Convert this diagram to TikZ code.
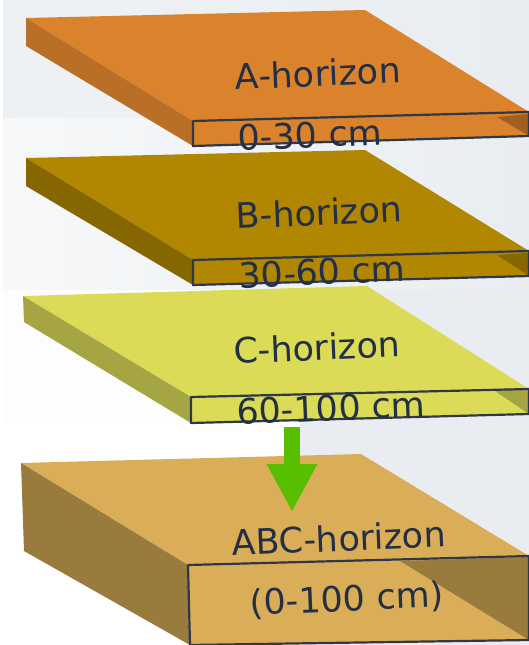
\documentclass[tikz,border=0pt]{standalone}
\usepackage{xcolor}
\usepackage{fontspec}
\setmainfont{DejaVu Sans}
\usetikzlibrary{calc,arrows.meta,positioning}
\definecolor{textblue}{HTML}{232F45}
\definecolor{edgeblue}{HTML}{2E3848}
\definecolor{paneback}{HTML}{E9EDF1}
\definecolor{arrowgreen}{HTML}{58BE00}
\definecolor{topA}{HTML}{DB832C}
\definecolor{sideA}{HTML}{B96F25}
\definecolor{darkA}{HTML}{A0601F}
\definecolor{topB}{HTML}{B18600}
\definecolor{sideB}{HTML}{866600}
\definecolor{darkB}{HTML}{866600}
\definecolor{topC}{HTML}{DCDB58}
\definecolor{sideC}{HTML}{A5A543}
\definecolor{darkC}{HTML}{A5A543}
\definecolor{topD}{HTML}{DAAE58}
\definecolor{sideD}{HTML}{9A7B3E}
\definecolor{darkD}{HTML}{9A7B3E}
\tikzset{
  layerlabel/.style={text=textblue, font=\fontsize{35}{35}\selectfont, inner sep=0pt, rotate=2.5},
  frontedge/.style={draw=edgeblue, line width=2.2pt, line join=round},
  flowline/.style={arrowgreen, line width=16pt, -{Triangle[length=48pt,width=47pt]}}
}
\begin{document}
\begin{tikzpicture}[x=1pt,y=-1pt]
	\useasboundingbox (0,0) rectangle (529,645);
	% background panes
	\fill[white] (0,0) rectangle (529,645);
	\shade[left color=paneback!75!white, right color=paneback] (3,0) rectangle (529,118);
	\shade[left color=paneback!40!white, right color=paneback] (3,118) rectangle (529,290);
	\fill[paneback!10!white] (3,290) rectangle (300,424);
	\fill[paneback] (300,290) rectangle (529,645);
	% the four slabs: top face, left side, open front with its dark corner
	\foreach \topl/\topr/\edger/\frontl/\sidel/\lowl/\lowr/\darkl/\darkr/\lay in {
		{26,18}/{365,10}/{529,112}/{193,121}/{26,46}/{193,146}/{529,136}/{497,117}/{529,114}/A,
		{26,158}/{365,150}/{529,251}/{193,260}/{26,186}/{193,285}/{529,276}/{497,255}/{529,253}/B,
		{23,296}/{367,286}/{529,389}/{191,397}/{24,322}/{191,423}/{529,414}/{495,391}/{529,389}/C,
		{21,463}/{361,454}/{529,556}/{188,565}/{24,551}/{190,645}/{529,640}/{400,561}/{529,557}/D}
	{
		\fill[top\lay] (\topl) -- (\topr) -- (\edger) -- (\frontl) -- cycle;
		\fill[side\lay] (\topl) -- (\frontl) -- (\lowl) -- (\sidel) -- cycle;
		\fill[top\lay] (\frontl) -- (\edger) -- (\lowr) -- (\lowl) -- cycle;
		\fill[dark\lay] (\darkl) -- (\darkr) -- (\lowr) -- cycle;
		\draw[frontedge] (\frontl) -- (\edger) -- (\lowr) -- (\lowl) -- cycle;
	}
	% labels
	\node[layerlabel] (labelA) at (318,73) {A-horizon};
	\node[layerlabel] (depthA) at (310,135) {0-30 cm};
	\node[layerlabel] (labelB) at (319,212) {B-horizon};
	\node[layerlabel] (depthB) at (322,272) {30-60 cm};
	\node[layerlabel] (labelC) at (317,347) {C-horizon};
	\node[layerlabel] (depthC) at (331,408) {60-100 cm};
	\node[layerlabel] (labelABC) at (339,538) {ABC-horizon};
	\node[layerlabel] (depthABC) at (347,600) {(0-100 cm)};
	% merged result
	\coordinate (flowstart) at (292,427);
	\coordinate (flowend) at (292,512);
	\draw[flowline] (flowstart) -- (flowend);
\end{tikzpicture}
\end{document}
